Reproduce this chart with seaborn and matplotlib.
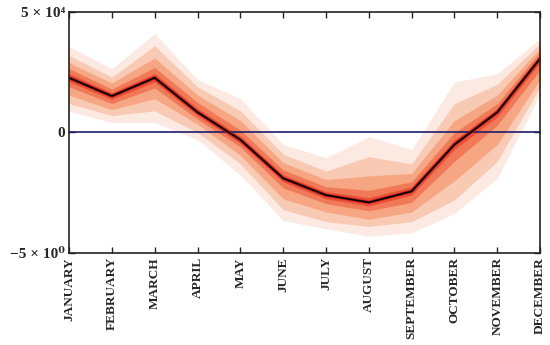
import matplotlib
matplotlib.use("Agg")
import matplotlib.pyplot as plt
import seaborn as sns
import pandas as pd

months = ["JANUARY", "FEBRUARY", "MARCH", "APRIL", "MAY", "JUNE", "JULY",
          "AUGUST", "SEPTEMBER", "OCTOBER", "NOVEMBER", "DECEMBER"]

median = [22700, 15100, 22700, 8400, -3000, -19000, -26000, -29000, -24400, -5000, 8400, 30700]

# fan bands, outer -> inner
upper1 = [35700, 26500, 41000, 22000, 14000, -5000, -10500, -1700, -7100, 21000, 24400, 39000]
lower1 = [8800, 4200, 4200, -3000, -17600, -36500, -40000, -43000, -41600, -33600, -19000, 16000]
upper2 = [32000, 23000, 36000, 19000, 9000, -9000, -16000, -10000, -13000, 12000, 20000, 37000]
lower2 = [12000, 7000, 9000, 0, -13000, -32000, -37000, -39000, -37000, -28000, -12000, 19000]
upper3 = [29000, 20500, 31000, 15500, 5000, -12500, -19500, -18000, -17000, 5000, 15500, 35000]
lower3 = [15500, 9500, 14000, 3500, -9500, -27500, -33000, -36000, -33000, -20000, -5000, 22000]
upper4 = [26500, 18000, 27000, 12500, 1000, -15500, -22500, -24000, -20500, 0, 12000, 33500]
lower4 = [19000, 12000, 18500, 5500, -6000, -23000, -29500, -32500, -29000, -12000, 3000, 26000]
upper5 = [24500, 16500, 24500, 10000, -1500, -17500, -24500, -27000, -22500, -3000, 10000, 32000]
lower5 = [21000, 13800, 21000, 7000, -4500, -20500, -27500, -30500, -26000, -7000, 6500, 29000]

bands = [(lower1, upper1), (lower2, upper2), (lower3, upper3), (lower4, upper4), (lower5, upper5)]

df = pd.DataFrame({"month": range(len(months)), "median": median})

sns.set_style("ticks")
plt.rcParams["font.family"] = ["Liberation Serif", "DejaVu Serif"]

fig = plt.figure(figsize=(5.5, 3.45), dpi=100)
ax = fig.add_axes([0.1255, 0.2667, 0.8565, 0.6985])

colors = sns.blend_palette(["#fbe2d8", "#f8c0a4", "#f59a74", "#ef6c4a", "#e6442c"], len(bands))
for (lo, hi), c in zip(bands, colors):
    ax.fill_between(df["month"], lo, hi, color=c, alpha=0.75, linewidth=0)

ax.axhline(0, color="#1c1c6b", lw=1.2)
sns.lineplot(data=df, x="month", y="median", color="#c01818", lw=2.4, ax=ax)
sns.lineplot(data=df, x="month", y="median", color="black", lw=1.2, ax=ax)

ax.set_xlim(0, 11)
ax.set_ylim(-50000, 50000)
ax.set_xticks(range(len(months)))
ax.set_xticklabels(months, rotation=90, fontsize=9.5, fontweight="bold")
ax.set_yticks([-50000, 0, 50000])
ax.set_yticklabels(["\u22125 \u00d7 10\u2070", "0", "5 \u00d7 10\u2074"], fontsize=11, fontweight="bold")
ax.set_xlabel("")
ax.set_ylabel("")
ax.tick_params(direction="in", top=True, right=True, length=4, width=1, pad=3)
for s in ax.spines.values():
    s.set_linewidth(1.2)
    s.set_color("#222222")

fig.savefig("out.png", dpi=100)
